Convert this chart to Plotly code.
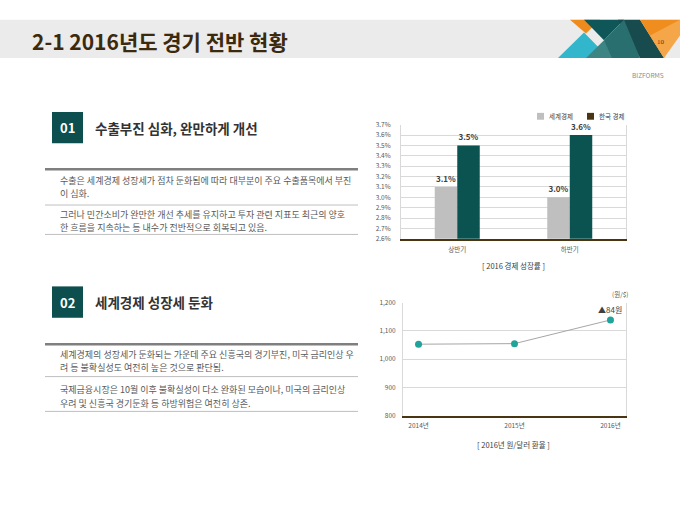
import plotly.graph_objects as go

W, H = 680, 510
FONT = "Noto Sans CJK KR"

# data
growth_cats = ["상반기", "하반기"]
world_growth = [3.1, 3.0]
korea_growth = [3.5, 3.6]

fx_years = ["2014년", "2015년", "2016년"]
fx_rate = [1053, 1055, 1139]

sec1_title = "수출부진 심화, 완만하게 개선"
sec1_text = [
    ["수출은 세계경제 성장세가 점차 둔화됨에 따라 대부분이 주요 수출품목에서 부진", "이 심화."],
    ["그러나 민간소비가 완만한 개선 추세를 유지하고 투자 관련 지표도 최근의 양호", "한 흐름을 지속하는 등 내수가 전반적으로 회복되고 있음."],
]
sec2_title = "세계경제 성장세 둔화"
sec2_text = [
    ["세계경제의 성장세가 둔화되는 가운데 주요 신흥국의 경기부진, 미국 금리인상 우", "려 등 불확실성도 여전히 높은 것으로 판단됨."],
    ["국제금융시장은 10월 이후 불확실성이 다소 완화된 모습이나, 미국의 금리인상", "우려 및 신흥국 경기둔화 등 하방위험은 여전히 상존."],
]

GRAY_BAR = "#bfbfbf"
TEAL_BAR = "#0b5350"
BROWN = "#4a3512"
DOT = "#1fa39b"


def px(x):
    return x / W


def py(y):
    return 1 - y / H


fig = go.Figure()

# 경제 성장률 막대
fig.add_trace(go.Bar(
    x=growth_cats, y=world_growth, name="세계경제",
    marker=dict(color=GRAY_BAR, line=dict(width=0)),
    width=0.2, offset=-0.2,
    text=[f"<b>{v:.1f}%</b>" for v in world_growth], textposition="outside",
    textfont=dict(size=8, color="#404040", family=FONT),
    cliponaxis=False, showlegend=False,
    xaxis="x", yaxis="y",
))
fig.add_trace(go.Bar(
    x=growth_cats, y=korea_growth, name="한국 경제",
    marker=dict(color=TEAL_BAR, line=dict(width=0)),
    width=0.2, offset=0,
    text=[f"<b>{v:.1f}%</b>" for v in korea_growth], textposition="outside",
    textfont=dict(size=8, color="#404040", family=FONT),
    cliponaxis=False, showlegend=False,
    xaxis="x", yaxis="y",
))

# 원/달러 환율
fig.add_trace(go.Scatter(
    x=fx_years, y=fx_rate, mode="lines+markers",
    line=dict(color="#a6a6a6", width=1),
    marker=dict(color=DOT, size=7),
    showlegend=False, cliponaxis=False,
    xaxis="x2", yaxis="y2",
))

tick_font = dict(size=6.5, color="#595959", family=FONT)

fig.update_layout(
    width=W, height=H, autosize=False,
    margin=dict(l=0, r=0, t=0, b=0),
    paper_bgcolor="white", plot_bgcolor="white",
    font=dict(family=FONT),
    xaxis=dict(domain=[px(401), px(626)], anchor="y", showline=True,
               linecolor=BROWN, linewidth=2, ticks="", tickfont=tick_font,
               showgrid=False, ticklabelstandoff=3),
    yaxis=dict(domain=[py(237.5), py(121)], anchor="x", range=[2.6, 3.7],
               dtick=0.1, tickformat=".1f", ticksuffix="%", tickfont=tick_font,
               gridcolor="#d9d9d9", gridwidth=1, showline=True, mirror=True,
               linecolor="#d9d9d9", zeroline=False, ticks="", ticklabelstandoff=8),
    xaxis2=dict(domain=[px(403), px(626)], anchor="y2", showline=True,
                linecolor=BROWN, linewidth=2, ticks="", tickfont=tick_font,
                showgrid=False, ticklabelstandoff=3),
    yaxis2=dict(domain=[py(417.7), py(302.7)], anchor="x2", range=[800, 1200],
                dtick=100, tickformat=",d", tickfont=tick_font,
                gridcolor="#d9d9d9", showline=True, mirror=True,
                linecolor="#d9d9d9", zeroline=False, ticks="", ticklabelstandoff=5),
)

shapes = []
ann = []


def label(x, y, text, size, color, xanchor="center", family=FONT):
    ann.append(dict(x=px(x), y=py(y), xref="paper", yref="paper",
                    xanchor=xanchor, yanchor="middle", showarrow=False,
                    text=text, font=dict(size=size, color=color, family=family)))


# header band
shapes.append(dict(type="rect", xref="paper", yref="paper", x0=0, x1=1,
                   y0=py(53), y1=py(14), fillcolor="#ebebeb", line=dict(width=0),
                   layer="below"))


def tri(points, color):
    path = "M " + " L ".join(f"{px(a)},{py(b)}" for a, b in points) + " Z"
    return dict(type="path", xref="paper", yref="paper", path=path,
                fillcolor=color, line=dict(width=0), layer="above")


shapes += [
    tri([(570, 14), (600, 14), (586, 28)], "#ef8a1d"),
    tri([(558, 53), (609, 53), (584, 27)], "#31b6cb"),
    tri([(584, 14), (624, 14), (604, 35)], "#0e5658"),
    tri([(604, 35), (586, 53), (630, 53)], "#3d8584"),
    tri([(618, 14), (640, 14), (664, 53), (640, 53)], "#174b4d"),
    tri([(604, 35), (624, 14), (640, 53), (612, 53)], "#2a6f70"),
    tri([(640, 14), (680, 14), (664, 53)], "#ef8d1f"),
    tri([(650, 30), (680, 14), (680, 30), (664, 53)], "#f4a648"),
]

label(30, 36, "<b>2-1 2016년도 경기 전반 현황</b>", 21, "#3b2a0e", xanchor="left")
label(661, 37, "10", 7, "#5a3a10", family="Liberation Serif")
label(666, 70, "BIZFORMS", 6.5, "#8c8c8c", xanchor="right")


def section(num, title, paras, box_top, thick_y, line_ys, text_ys):
    shapes.append(dict(type="rect", xref="paper", yref="paper",
                       x0=px(52), x1=px(83), y0=py(box_top + 32), y1=py(box_top),
                       fillcolor="#0d4f4e", line=dict(width=0)))
    label(67.5, box_top + 16, f"<b>{num}</b>", 13, "white")
    label(93, box_top + 16, f"<b>{title}</b>", 13.5, "#333333", xanchor="left")
    shapes.append(dict(type="line", xref="paper", yref="paper", x0=px(45), x1=px(358),
                       y0=py(thick_y), y1=py(thick_y),
                       line=dict(color="#7f7f7f", width=2.5)))
    for ly in line_ys:
        shapes.append(dict(type="line", xref="paper", yref="paper", x0=px(45), x1=px(358),
                           y0=py(ly), y1=py(ly), line=dict(color="#bfbfbf", width=1)))
    ys = iter(text_ys)
    for para in paras:
        for line in para:
            label(58, next(ys), line, 9, "#595959", xanchor="left")


section("01", sec1_title, sec1_text, 108, 166.5, [203, 233], [178, 191.5, 213, 226])
section("02", sec2_title, sec2_text, 286, 345, [378, 413.5], [355.5, 369, 391, 405])

# manual legend for chart 1
for name, col, x0 in [("세계경제", GRAY_BAR, 537), ("한국 경제", BROWN, 587)]:
    shapes.append(dict(type="rect", xref="paper", yref="paper", x0=px(x0), x1=px(x0 + 7),
                       y0=py(116), y1=py(109), fillcolor=col, line=dict(width=0)))
    label(x0 + 10, 112.5, name, 6.5, "#404040", xanchor="left")

label(513, 265, "[ 2016 경제 성장률 ]", 7.5, "#404040")

# chart 2 labels
ann.append(dict(x=fx_years[-1], y=fx_rate[-1], xref="x2", yref="y2", showarrow=False,
                yshift=10, yanchor="middle", text=f"▲{fx_rate[-1] - fx_rate[-2]}원",
                font=dict(size=8, color="#404040", family=FONT)))
label(631, 294, "(원/$)", 6.5, "#595959", xanchor="right")
label(513, 447, "[ 2016년 원/달러 환율 ]", 7.5, "#404040")

fig.update_layout(shapes=shapes, annotations=ann)

fig.write_html("out.html", config={"displayModeBar": False},
               post_script="document.body.style.margin='0';")
